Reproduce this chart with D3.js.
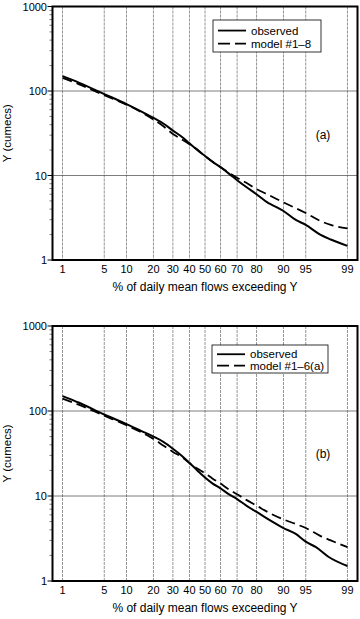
<!DOCTYPE html>
<html>
<head>
<meta charset="utf-8">
<script src="https://cdn.jsdelivr.net/npm/d3@7"></script>
<style>
  html, body { margin: 0; padding: 0; background: #ffffff; }
  svg { display: block; font-family: "Liberation Sans", Arial, sans-serif; }
</style>
</head>
<body>
<div id="chart"></div>
<script>
'use strict';

// ── Data ───────────────────────────────────────────────────
const PCT_TICKS = [1, 5, 10, 20, 30, 40, 50, 60, 70, 80, 90, 95, 99];
const Y_TICKS   = [1, 10, 100, 1000];

// panel (a)
const A_OBS_PCT  = [1, 2, 5, 10, 15, 20, 25, 30, 35, 40, 45, 50, 55, 60, 65, 70, 75, 80, 85, 88, 90, 93, 95, 97, 98, 99];
const A_OBS_FLOW = [150, 125, 92, 70, 57, 48, 41, 34, 29, 24, 20, 17, 14.5, 12.5, 10.6, 8.8, 7.3, 6.0, 4.7, 4.2, 3.8, 3.0, 2.6, 2.0, 1.75, 1.47];
const A_MOD_PCT  = [1, 2, 5, 10, 15, 20, 25, 30, 35, 40, 45, 50, 55, 60, 65, 70, 75, 80, 85, 90, 95, 97, 98, 99];
const A_MOD_FLOW = [143, 120, 89, 69, 56, 46, 38, 31, 27, 23.5, 20.3, 17, 14.5, 12.6, 10.8, 9.4, 8.2, 6.9, 5.9, 4.8, 3.6, 2.9, 2.6, 2.37];

// panel (b)
const B_OBS_PCT  = [1, 2, 5, 10, 15, 20, 25, 30, 35, 40, 45, 50, 55, 60, 65, 70, 75, 80, 85, 90, 93, 95, 96.5, 97.8, 99];
const B_OBS_FLOW = [150, 125, 91, 70, 58, 50, 43, 36, 30, 24.5, 20, 16.5, 14, 12.3, 10.5, 9.2, 7.7, 6.5, 5.3, 4.2, 3.6, 2.9, 2.5, 1.93, 1.5];
const B_MOD_PCT  = [1, 2, 5, 10, 15, 20, 25, 30, 35, 40, 45, 50, 55, 60, 65, 70, 75, 80, 85, 90, 93, 95, 97, 98, 99];
const B_MOD_FLOW = [140, 118, 88, 68, 56, 47, 39, 33, 29, 24.5, 21, 18.5, 16, 14, 12, 10.5, 9.0, 7.7, 6.4, 5.3, 4.7, 4.2, 3.4, 3.0, 2.5];

const PANELS = [
  { top: 6.5, bottom: 260, tag: '(a)', model: 'model #1\u20138',
    obsPct: A_OBS_PCT, obsFlow: A_OBS_FLOW, modPct: A_MOD_PCT, modFlow: A_MOD_FLOW,
    legend: { x: 213, y: 20, w: 108, h: 32 }, tagY: 135 },
  { top: 326, bottom: 581, tag: '(b)', model: 'model #1\u20136(a)',
    obsPct: B_OBS_PCT, obsFlow: B_OBS_FLOW, modPct: B_MOD_PCT, modFlow: B_MOD_FLOW,
    legend: { x: 212, y: 345, w: 116, h: 28 }, tagY: 454 }
];

// ── Normal probability axis: inverse normal CDF (Acklam) ───
function probit(p) {
  const a = [-3.969683028665376e+01, 2.209460984245205e+02, -2.759285104469687e+02,
             1.383577518672690e+02, -3.066479806614716e+01, 2.506628277459239e+00];
  const b = [-5.447609879822406e+01, 1.615858368580409e+02, -1.556989798598866e+02,
             6.680131188771972e+01, -1.328068155288572e+01];
  const c = [-7.784894002430293e-03, -3.223964580411365e-01, -2.400758277161838e+00,
             -2.549671829768620e+00, 4.374664141464968e+00, 2.938163982698783e+00];
  const d = [7.784695709041462e-03, 3.224671290700398e-01, 2.445134137142996e+00,
             3.754408661907416e+00];
  const pl = 0.02425;
  let q, r;
  if (p < pl) {
    q = Math.sqrt(-2 * Math.log(p));
    return (((((c[0]*q+c[1])*q+c[2])*q+c[3])*q+c[4])*q+c[5]) /
           ((((d[0]*q+d[1])*q+d[2])*q+d[3])*q+1);
  }
  if (p > 1 - pl) {
    q = Math.sqrt(-2 * Math.log(1 - p));
    return -(((((c[0]*q+c[1])*q+c[2])*q+c[3])*q+c[4])*q+c[5]) /
            ((((d[0]*q+d[1])*q+d[2])*q+d[3])*q+1);
  }
  q = p - 0.5; r = q * q;
  return (((((a[0]*r+a[1])*r+a[2])*r+a[3])*r+a[4])*r+a[5])*q /
         (((((b[0]*r+b[1])*r+b[2])*r+b[3])*r+b[4])*r+1);
}

const W = 360, H = 619;
const LEFT = 52.5, RIGHT = 357.5;

const svg = d3.select('#chart').append('svg')
  .attr('width', W).attr('height', H);

const z = d3.scaleLinear().domain([-2.49, 2.49]).range([LEFT, RIGHT]);
const xPos = p => z(probit(p / 100));

PANELS.forEach(drawPanel);

function drawPanel(cfg) {
  const y = d3.scaleLog().domain([1, 1000]).range([cfg.bottom, cfg.top]);
  const g = svg.append('g');

  // ── grid ────────────────────────────────
  g.selectAll('line.vgrid').data(PCT_TICKS).join('line')
    .attr('x1', d => xPos(d)).attr('x2', d => xPos(d))
    .attr('y1', cfg.top).attr('y2', cfg.bottom)
    .attr('stroke', '#7a7a7a').attr('stroke-width', 0.8)
    .attr('stroke-dasharray', '3,1');

  g.selectAll('line.hgrid').data([10, 100]).join('line')
    .attr('x1', LEFT).attr('x2', RIGHT)
    .attr('y1', d => y(d)).attr('y2', d => y(d))
    .attr('stroke', '#5a5a5a').attr('stroke-width', 0.8);

  // ── y axis ticks (major + minor) ───────
  const minor = [];
  [1, 10, 100].forEach(dec => { for (let k = 2; k <= 9; k++) minor.push(dec * k); });

  g.selectAll('line.minor').data(minor).join('line')
    .attr('x1', LEFT - 3).attr('x2', LEFT)
    .attr('y1', d => y(d)).attr('y2', d => y(d))
    .attr('stroke', '#444').attr('stroke-width', 0.7);

  g.selectAll('line.major').data(Y_TICKS).join('line')
    .attr('x1', LEFT - 5).attr('x2', LEFT)
    .attr('y1', d => y(d)).attr('y2', d => y(d))
    .attr('stroke', '#000').attr('stroke-width', 1);

  g.selectAll('text.ylab').data(Y_TICKS).join('text')
    .attr('x', 47).attr('y', d => y(d) + 4)
    .attr('text-anchor', 'end')
    .attr('font-size', 11)
    .text(d => d);

  g.selectAll('text.xlab').data(PCT_TICKS).join('text')
    .attr('x', d => xPos(d)).attr('y', cfg.bottom + 12.5)
    .attr('text-anchor', 'middle')
    .attr('font-size', 11)
    .text(d => d);

  // ── curves ─────────────────────────────
  const line = d3.line()
    .x(d => xPos(d[0]))
    .y(d => y(d[1]))
    .curve(d3.curveMonotoneX);

  g.append('path')
    .attr('d', line(d3.zip(cfg.modPct, cfg.modFlow)))
    .attr('fill', 'none').attr('stroke', '#000')
    .attr('stroke-width', 1.8).attr('stroke-dasharray', '10,5');

  g.append('path')
    .attr('d', line(d3.zip(cfg.obsPct, cfg.obsFlow)))
    .attr('fill', 'none').attr('stroke', '#000')
    .attr('stroke-width', 2);

  // ── frame ──────────────────────────────
  g.append('rect')
    .attr('x', LEFT).attr('y', cfg.top)
    .attr('width', RIGHT - LEFT).attr('height', cfg.bottom - cfg.top)
    .attr('fill', 'none').attr('stroke', '#000').attr('stroke-width', 2);

  // ── legend ─────────────────────────────
  const L = cfg.legend;
  const lg = g.append('g');
  lg.append('rect')
    .attr('x', L.x).attr('y', L.y).attr('width', L.w).attr('height', L.h)
    .attr('fill', '#fff').attr('stroke', '#000').attr('stroke-width', 0.8);
  const rows = [
    { label: 'observed', dash: null },
    { label: cfg.model, dash: '12,5' }
  ];
  rows.forEach((r, i) => {
    const ry = L.y + L.h * (i === 0 ? 0.33 : 0.74);
    lg.append('line')
      .attr('x1', L.x + 5).attr('x2', L.x + 33)
      .attr('y1', ry).attr('y2', ry)
      .attr('stroke', '#000').attr('stroke-width', 1.8)
      .attr('stroke-dasharray', r.dash);
    lg.append('text')
      .attr('x', L.x + 38).attr('y', ry + 4.2)
      .attr('font-size', 11.5)
      .text(r.label);
  });

  g.append('text')
    .attr('x', 323).attr('y', cfg.tagY + 4)
    .attr('text-anchor', 'middle')
    .attr('font-size', 12)
    .text(cfg.tag);

  // ── axis titles ────────────────────────
  const midY = (cfg.top + cfg.bottom) / 2;
  g.append('text')
    .attr('transform', `translate(11,${midY}) rotate(-90)`)
    .attr('text-anchor', 'middle')
    .attr('font-size', 11.5)
    .text('Y (cumecs)');

  g.append('text')
    .attr('x', 205).attr('y', cfg.bottom + 31)
    .attr('text-anchor', 'middle')
    .attr('font-size', 12)
    .text('% of daily mean flows exceeding Y');
}
</script>
</body>
</html>
